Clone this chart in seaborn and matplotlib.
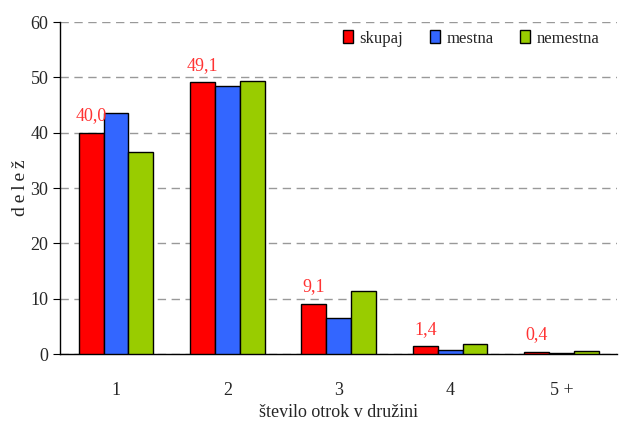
import pandas as pd
import seaborn as sns
from matplotlib import pyplot as plt
from matplotlib.ticker import FixedLocator

categories = ["1", "2", "3", "4", "5 +"]
series = ["skupaj", "mestna", "nemestna"]
skupaj = [40.0, 49.1, 9.1, 1.4, 0.4]
mestna = [43.6, 48.5, 6.5, 0.7, 0.2]
nemestna = [36.6, 49.4, 11.4, 1.9, 0.5]
skupaj_labels = ["40,0", "49,1", "9,1", "1,4", "0,4"]
colors = {"skupaj": "#ff0000", "mestna": "#3366ff", "nemestna": "#99cc00"}


def main():
    df = pd.DataFrame({
        "kat": categories * 3,
        "serija": ["skupaj"] * 5 + ["mestna"] * 5 + ["nemestna"] * 5,
        "delez": skupaj + mestna + nemestna,
    })

    sns.set_style("white")
    plt.rcParams["font.family"] = ["Liberation Serif", "DejaVu Serif"]

    fig = plt.figure(figsize=(6.21, 4.25), dpi=100)
    ax = fig.add_axes([0.097, 0.167, 0.897, 0.781])
    sns.barplot(df, x="kat", y="delez", hue="serija", hue_order=series,
                palette=colors, width=0.67, edgecolor="black", linewidth=1,
                saturation=1, ax=ax, zorder=3)

    # red labels over skupaj bars
    for i, (v, lab) in enumerate(zip(skupaj, skupaj_labels)):
        ax.annotate(lab, (i - 0.67 / 3, v), xytext=(0, 6), textcoords="offset points",
                    ha="center", va="bottom", color="#ff3333", fontsize=13)

    ax.set_ylim(0, 60)
    ax.set_xlim(-0.5, 4.5)
    ax.set_yticks(range(0, 61, 10))
    ax.yaxis.grid(True, linestyle=(0, (6, 4)), color="#999999", linewidth=1, zorder=0)
    ax.set_axisbelow(True)
    for s in ("top", "right"):
        ax.spines[s].set_visible(False)
    for s in ("left", "bottom"):
        ax.spines[s].set_color("black")
        ax.spines[s].set_linewidth(1)

    ax.tick_params(axis="x", which="major", length=0, pad=20, labelsize=13)
    ax.xaxis.set_minor_locator(FixedLocator([-0.5, 0.5, 1.5, 2.5, 3.5, 4.5]))
    ax.tick_params(axis="x", which="minor", length=5, direction="out", color="black")
    ax.tick_params(axis="y", length=5, direction="out", color="black", labelsize=13, left=True)

    ax.set_xlabel("število otrok v družini", fontsize=13, labelpad=4)
    ax.set_ylabel("d\u2009e\u2009l\u2009e\u2009ž", fontsize=14, labelpad=1)

    leg = ax.legend(loc="upper right", ncol=3, frameon=False, fontsize=12,
                    handlelength=0.6, handleheight=0.8, handletextpad=0.4,
                    columnspacing=1.6, bbox_to_anchor=(0.995, 1.02))
    for h in leg.legend_handles:
        h.set_edgecolor("black")

    fig.savefig("out.png", dpi=100)


if __name__ == "__main__":
    main()
